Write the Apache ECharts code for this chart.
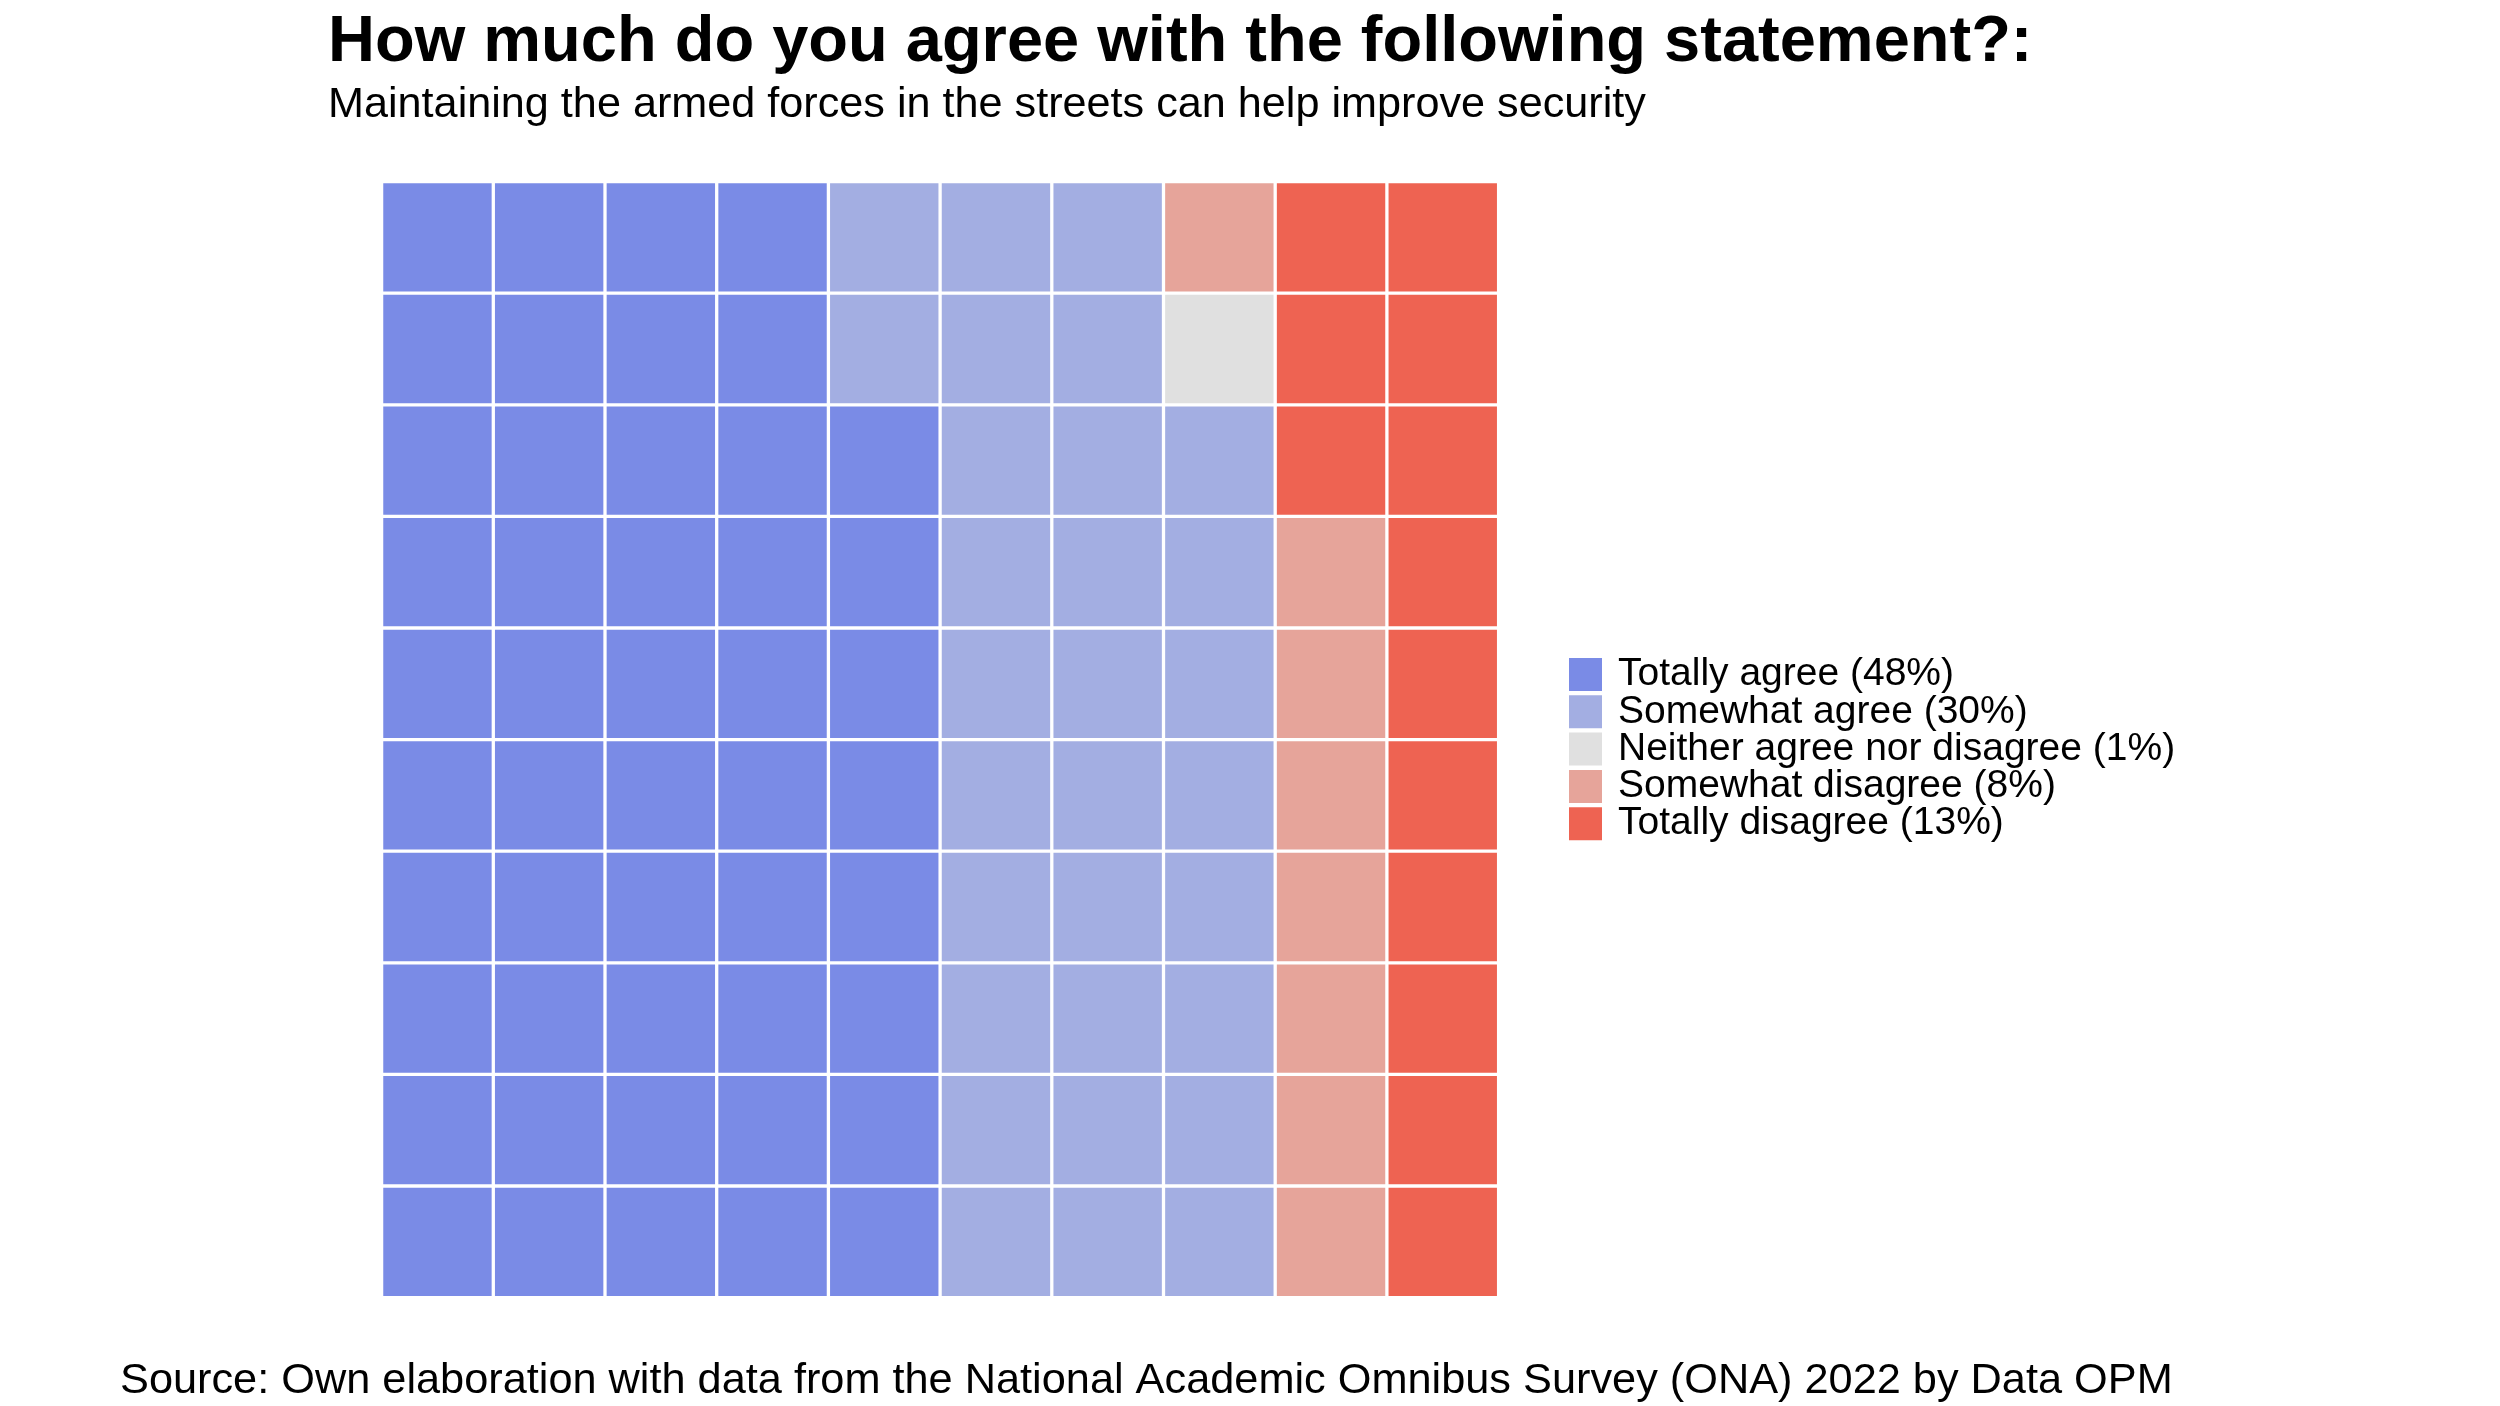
<!DOCTYPE html>
<html>
<head>
<meta charset="utf-8">
<script src="https://cdn.jsdelivr.net/npm/echarts@6/dist/echarts.min.js"></script>
<style>
  html, body {margin: 0; padding: 0; background: #ffffff;}
  #chart {width: 2500px; height: 1406px;}
</style>
</head>
<body>
<div id="chart"></div>
<script>
// survey answers, share of respondents in percent (one waffle cell = 1%)
var categories = ['Totally agree', 'Somewhat agree', 'Neither agree nor disagree', 'Somewhat disagree', 'Totally disagree'];
var percents = [48, 30, 1, 8, 13];
var colors = ['#7A8BE6', '#A3AEE2', '#E0E0E0', '#E6A49A', '#EE6352'];
var columns = ['1', '2', '3', '4', '5', '6', '7', '8', '9', '10'];
var rows = ['1', '2', '3', '4', '5', '6', '7', '8', '9', '10'];

var chart = echarts.init(document.getElementById('chart'));

// fill the waffle column by column, bottom to top
var cells = [], k = 0;
for (var c = 0; c < categories.length; c++) {
    cells[c] = [];
    for (var n = 0; n < percents[c]; n++) {
        cells[c].push([Math.floor(k / rows.length), k % rows.length]);
        k++;
    }
}

function renderCell(params, api) {
    var p = api.coord([api.value(0), api.value(1)]);
    var s = api.size([1, 1]);
    var gap = 1.65;
    return {
        type: 'rect',
        shape: {x: p[0] - s[0] / 2 + gap, y: p[1] - s[1] / 2 + gap, width: s[0] - 2 * gap, height: s[1] - 2 * gap},
        style: {fill: api.visual('color')}
    };
}

var series = [];
for (var i = 0; i < categories.length; i++) {
    series.push({
        name: categories[i] + ' (' + percents[i] + '%)',
        type: 'custom',
        renderItem: renderCell,
        itemStyle: {color: colors[i]},
        encode: {x: 0, y: 1},
        data: cells[i],
        animation: false
    });
}

var font = "'Liberation Sans', Arial, Helvetica, sans-serif";
var option = {
    backgroundColor: '#ffffff',
    animation: false,
    title: [
        {
            text: 'How much do you agree with the following statement?:',
            left: 328, top: 11, padding: 0,
            textStyle: {fontFamily: font, fontSize: 65, fontWeight: 'bold', color: '#000000', lineHeight: 65}
        },
        {
            text: 'Maintaining the armed forces in the streets can help improve security',
            left: 328, top: 83, padding: 0,
            textStyle: {fontFamily: font, fontSize: 43.2, fontWeight: 'normal', color: '#000000', lineHeight: 43.2}
        },
        {
            text: 'Source: Own elaboration with data from the National Academic Omnibus Survey (ONA) 2022 by Data OPM',
            left: 120, top: 1359, padding: 0,
            textStyle: {fontFamily: font, fontSize: 43.3, fontWeight: 'normal', color: '#000000', lineHeight: 43.3}
        }
    ],
    legend: {
        orient: 'vertical',
        left: 1569, top: 655, padding: 0,
        itemWidth: 33, itemHeight: 33, itemGap: -1.7,
        icon: 'rect',
        selectedMode: false,
        textStyle: {fontFamily: font, fontSize: 39, color: '#000000', lineHeight: 33, padding: [0, 0, 0, 11]},
        data: series.map(function (s) { return s.name; })
    },
    grid: {left: 381.6, top: 181.6, width: 1117, height: 1116},
    xAxis: {type: 'category', data: columns, show: false},
    yAxis: {type: 'category', data: rows, show: false},
    series: series
};
chart.setOption(option);
</script>
</body>
</html>
